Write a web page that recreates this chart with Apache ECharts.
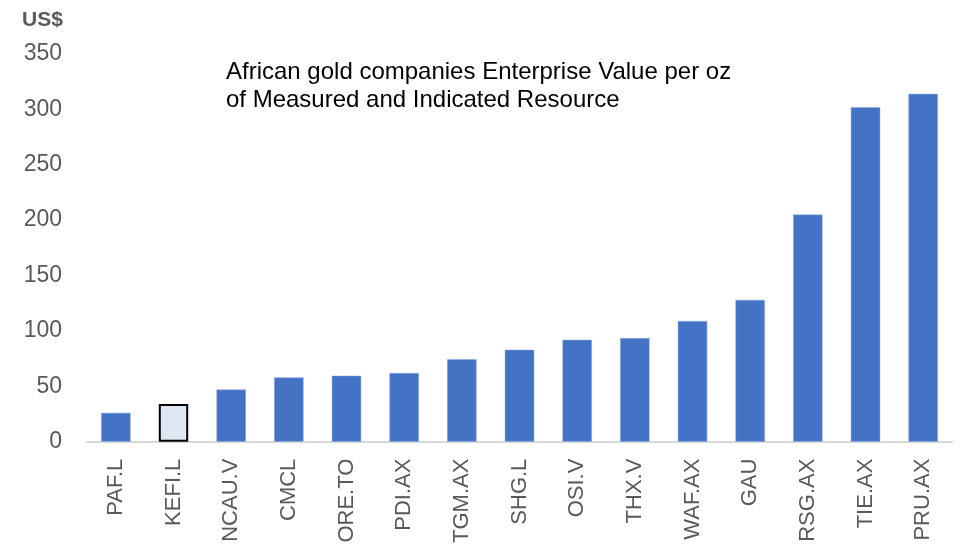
<!DOCTYPE html>
<html><head><meta charset="utf-8">
<script src="https://cdn.jsdelivr.net/npm/echarts@6/dist/echarts.min.js"></script>
<style>html,body{margin:0;padding:0;background:#fff}#c{width:963px;height:546px}</style>
</head><body><div id="c"></div>
<script>
const categories = ['PAF.L','KEFI.L','NCAU.V','CMCL','ORE.TO','PDI.AX','TGM.AX','SHG.L','OSI.V','THX.V','WAF.AX','GAU','RSG.AX','TIE.AX','PRU.AX'];
const values = [26, 34, 47, 58, 59.5, 62, 74.5, 83, 92, 93.5, 109, 128, 205, 302, 314];
const highlight = 'KEFI.L';
const yTicks = [0, 50, 100, 150, 200, 250, 300, 350];
const titleLines = ['African gold companies Enterprise Value per oz', 'of Measured and Indicated Resource'];
const unitLabel = 'US$';

const chart = echarts.init(document.getElementById('c'), null, {renderer: 'canvas'});
chart.setOption({
  animation: false,
  backgroundColor: '#fff',
  title: {
    text: titleLines.join('\n'),
    left: 221, top: 53,
    textStyle: {fontFamily: 'Liberation Sans, Arial', fontSize: 24, fontWeight: 'normal', color: '#000', lineHeight: 28}
  },
  graphic: [{
    type: 'text', left: 22, top: 10,
    style: {text: unitLabel, fontFamily: 'Liberation Sans, Arial', fontSize: 21, fontWeight: 'bold', fill: '#595959'}
  }],
  grid: {left: 87, right: 11, top: 54, bottom: 100, containLabel: false},
  xAxis: {
    type: 'category', data: categories,
    axisLine: {lineStyle: {color: '#d9d9d9', width: 2}},
    axisTick: {show: false},
    axisLabel: {rotate: 90, interval: 0, margin: 17, color: '#595959', fontFamily: 'Liberation Sans, Arial', fontSize: 22}
  },
  yAxis: {
    type: 'value', min: yTicks[0], max: yTicks[yTicks.length - 1], interval: 50,
    axisLine: {show: false}, axisTick: {show: false}, splitLine: {show: false},
    axisLabel: {margin: 25, color: '#595959', fontFamily: 'Liberation Sans, Arial', fontSize: 23}
  },
  series: [{
    type: 'bar', barWidth: '51%',
    data: categories.map((c, i) => c === highlight
      ? {value: values[i], itemStyle: {color: '#dde8f4', borderColor: '#000', borderWidth: 2}}
      : {value: values[i], itemStyle: {color: '#4472c4', borderColor: '#8eaadb', borderWidth: 0.5}})
  }]
});
</script></body></html>
